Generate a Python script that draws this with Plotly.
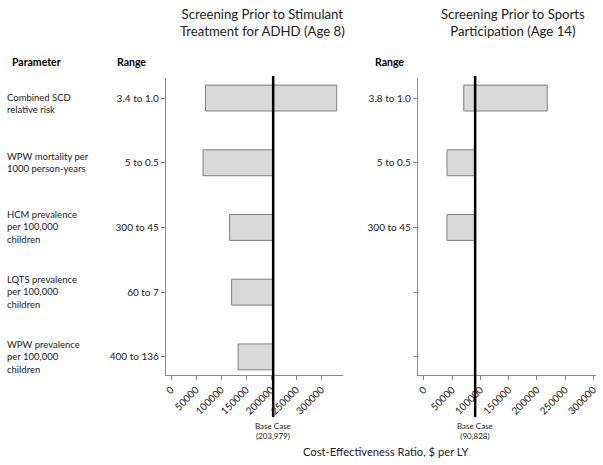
import plotly.graph_objects as go

W, H = 603, 465

parameters = [
    "Combined SCD<br>relative risk",
    "WPW mortality per<br>1000 person-years",
    "HCM prevalence<br>per 100,000<br>children",
    "LQTS prevalence<br>per 100,000<br>children",
    "WPW prevalence<br>per 100,000<br>children",
]
ranges_adhd = ["3.4 to 1.0", "5 to 0.5", "300 to 45", "60 to 7", "400 to 136"]
ranges_sports = ["3.8 to 1.0", "5 to 0.5", "300 to 45", "", ""]

base_adhd = 203979
base_sports = 90828
low_adhd = [68800, 64000, 117000, 121000, 134000]
high_adhd = [330800, 203979, 203979, 203979, 203979]
low_sports = [70700, 41100, 41100, None, None]
high_sports = [218400, 90828, 90828, None, None]

x_ticks = [0, 50000, 100000, 150000, 200000, 250000, 300000]

FONT = "Lato, 'Open Sans', sans-serif"
TXT = "#222222"

def px_x(p):
    return p / W

def px_y(p):
    return 1 - p / H

fig = go.Figure()

cats = list(range(len(parameters)))

def add_bars(lows, highs, xa, ya):
    xs, bases, ys = [], [], []
    for i, (lo, hi) in enumerate(zip(lows, highs)):
        if lo is None:
            continue
        xs.append(hi - lo)
        bases.append(lo)
        ys.append(cats[i])
    fig.add_trace(go.Bar(
        x=xs, base=bases, y=ys, orientation="h", width=0.4,
        marker=dict(color="#d9d9d9", line=dict(color="#7f7f7f", width=1)),
        xaxis=xa, yaxis=ya, showlegend=False, hoverinfo="skip",
    ))

add_bars(low_adhd, high_adhd, "x", "y")
add_bars(low_sports, high_sports, "x2", "y2")

axis_common = dict(
    showgrid=False, zeroline=False, showline=True, linecolor="#8c8c8c",
    linewidth=1.2, ticks="outside", ticklen=4, tickcolor="#8c8c8c",
    tickfont=dict(family=FONT, size=10, color=TXT), automargin=False,
)

fig.update_layout(
    width=W, height=H,
    margin=dict(l=0, r=0, t=0, b=0),
    paper_bgcolor="white", plot_bgcolor="white",
    font=dict(family=FONT, color=TXT),
    barmode="overlay",
    xaxis=dict(domain=[px_x(166), px_x(343)], range=[-10000, 343400],
               tickvals=x_ticks, ticktext=[str(v) for v in x_ticks],
               tickangle=-45, anchor="y", **axis_common),
    yaxis=dict(domain=[px_y(375), px_y(78)], range=[4.28, -0.31],
               tickvals=cats, ticktext=ranges_adhd, anchor="x", **axis_common),
    xaxis2=dict(domain=[px_x(418), px_x(596)], range=[-10300, 304800],
                tickvals=x_ticks, ticktext=[str(v) for v in x_ticks],
                tickangle=-45, anchor="y2", **axis_common),
    yaxis2=dict(domain=[px_y(375), px_y(78)], range=[4.28, -0.31],
                tickvals=cats, ticktext=ranges_sports, anchor="x2", **axis_common),
)

# base case lines
for base, xr in [(base_adhd, "x"), (base_sports, "x2")]:
    fig.add_shape(type="line", xref=xr, yref="paper", x0=base, x1=base,
                  y0=px_y(417), y1=px_y(76), line=dict(color="black", width=2.5),
                  layer="above")
    fig.add_annotation(xref=xr, yref="paper", x=base, y=px_y(431),
                       text="Base Case<br>(" + f"{base:,}" + ")", showarrow=False,
                       font=dict(family=FONT, size=8, color=TXT),
                       yanchor="middle", xanchor="center")

# parameter labels
shifts = [-5, 0, 0, 0, 0]
for i, p in enumerate(parameters):
    fig.add_annotation(xref="paper", yref="y", x=px_x(5), y=cats[i], yshift=shifts[i],
                       text=p, showarrow=False, align="left", xanchor="left",
                       yanchor="middle", font=dict(family=FONT, size=9.5, color=TXT))

# headers
headers = [("<b>Parameter</b>", 10), ("<b>Range</b>", 115), ("<b>Range</b>", 373)]
for t, xp in headers:
    fig.add_annotation(xref="paper", yref="paper", x=px_x(xp), y=px_y(62), text=t,
                       showarrow=False, xanchor="left", yanchor="middle",
                       font=dict(family=FONT, size=10.5, color="black"))

# panel titles
titles = [("Screening Prior to Stimulant<br>Treatment for ADHD (Age 8)", 262),
          ("Screening Prior to Sports<br>Participation (Age 14)", 513)]
for t, xp in titles:
    fig.add_annotation(xref="paper", yref="paper", x=px_x(xp), y=px_y(22), text=t,
                       showarrow=False, xanchor="center", yanchor="middle",
                       font=dict(family=FONT, size=13.2, color=TXT))

fig.add_annotation(xref="paper", yref="paper", x=px_x(386), y=px_y(451),
                   text="Cost-Effectiveness Ratio, $ per LY", showarrow=False,
                   xanchor="center", yanchor="middle",
                   font=dict(family=FONT, size=11.2, color=TXT))

fig.write_html(
    "out.html",
    config={"displayModeBar": False},
    post_script="document.body.style.margin='0';document.body.style.overflow='hidden';",
)
